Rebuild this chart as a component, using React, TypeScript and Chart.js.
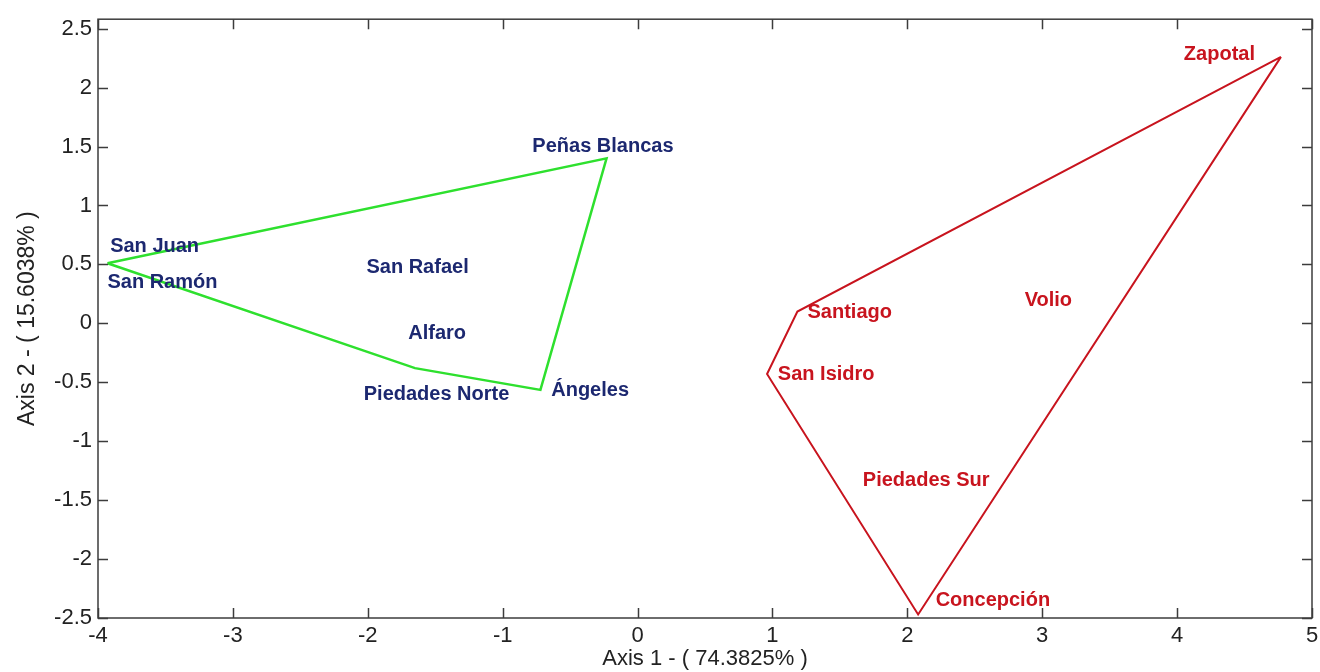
import React, { useEffect, useRef } from "react";
import { Chart, registerables } from "chart.js";

Chart.register(...registerables);

// Convex hull of the first group (green)
const greenHullX = [-3.93, -0.23, -0.72, -1.65, -3.93];
const greenHullY = [0.51, 1.4, -0.565, -0.38, 0.51];

// Convex hull of the second group (red)
const redHullX = [4.77, 2.08, 0.96, 1.185, 4.77];
const redHullY = [2.26, -2.47, -0.43, 0.1, 2.26];

// Labels of the first group
const blueNames = ["San Juan", "San Ramón", "San Rafael", "Peñas Blancas", "Alfaro", "Piedades Norte", "Ángeles"];
const blueX = [-3.91, -3.93, -2.01, -0.78, -1.7, -2.03, -0.64];
const blueY = [0.65, 0.35, 0.47, 1.5, -0.09, -0.6, -0.57];

// Labels of the second group
const redNames = ["Zapotal", "Volio", "Santiago", "San Isidro", "Piedades Sur", "Concepción"];
const redX = [4.05, 2.87, 1.26, 1.04, 1.67, 2.21];
const redY = [2.28, 0.19, 0.09, -0.43, -1.33, -2.35];

const xTitle = "Axis 1 - ( 74.3825% )";
const yTitle = "Axis 2 - ( 15.6038% )";
const xMin = -4;
const xMax = 5;
const yMin = -2.5;
const yMax = 2.58;

const FONT = "'Liberation Sans', Arial, sans-serif";

const toPts = (xs: number[], ys: number[]) => xs.map((x, i) => ({ x, y: ys[i] }));

const framePlugin = {
  id: "frame",
  afterDatasetsDraw(chart: any) {
    const { ctx, chartArea } = chart;
    const xs = chart.scales.x;
    const ys = chart.scales.y;
    ctx.save();
    ctx.strokeStyle = "#3c3c3c";
    ctx.lineWidth = 1.5;
    ctx.strokeRect(chartArea.left, chartArea.top, chartArea.right - chartArea.left, chartArea.bottom - chartArea.top);
    const tl = 10;
    ctx.beginPath();
    xs.ticks.forEach((t: any) => {
      const px = Math.round(xs.getPixelForValue(t.value)) + 0.5;
      ctx.moveTo(px, chartArea.bottom);
      ctx.lineTo(px, chartArea.bottom - tl);
      ctx.moveTo(px, chartArea.top);
      ctx.lineTo(px, chartArea.top + tl);
    });
    ys.ticks.forEach((t: any) => {
      const py = Math.round(ys.getPixelForValue(t.value)) + 0.5;
      ctx.moveTo(chartArea.left, py);
      ctx.lineTo(chartArea.left + tl, py);
      ctx.moveTo(chartArea.right, py);
      ctx.lineTo(chartArea.right - tl, py);
    });
    ctx.stroke();
    ctx.font = `bold 20px ${FONT}`;
    ctx.textAlign = "left";
    ctx.textBaseline = "middle";
    ctx.fillStyle = "#1c2870";
    blueNames.forEach((n, i) => {
      ctx.fillText(n, xs.getPixelForValue(blueX[i]), ys.getPixelForValue(blueY[i]));
    });
    ctx.fillStyle = "#c8141e";
    redNames.forEach((n, i) => {
      ctx.fillText(n, xs.getPixelForValue(redX[i]), ys.getPixelForValue(redY[i]));
    });
    ctx.restore();
  },
};

export default function App() {
  const ref = useRef<HTMLCanvasElement | null>(null);
  useEffect(() => {
    if (!ref.current) return;
    const chart = new Chart(ref.current, {
      type: "scatter",
      data: {
        datasets: [
          {
            data: toPts(greenHullX, greenHullY),
            showLine: true,
            borderColor: "#2ee02e",
            borderWidth: 2.5,
            pointRadius: 0,
            fill: false,
          },
          {
            data: toPts(redHullX, redHullY),
            showLine: true,
            borderColor: "#c8141e",
            borderWidth: 2,
            pointRadius: 0,
            fill: false,
          },
        ],
      },
      options: {
        animation: false,
        responsive: true,
        maintainAspectRatio: false,
        layout: { padding: { top: 16, right: 8, left: 0, bottom: 0 } },
        plugins: { legend: { display: false }, tooltip: { enabled: false } },
        scales: {
          x: {
            type: "linear",
            min: xMin,
            max: xMax,
            ticks: {
              stepSize: 1,
              includeBounds: false,
              color: "#222",
              padding: 5,
              font: { family: FONT, size: 22 },
              maxRotation: 0,
              callback: (v: any) => String(Math.round(Number(v) * 100) / 100),
            },
            grid: { display: false, drawTicks: false },
            border: { display: false },
            title: {
              display: true,
              text: xTitle,
              color: "#222",
              font: { family: FONT, size: 22 },
              padding: { top: 0, bottom: 0 },
            },
            afterFit: (s: any) => {
              s.height = 54;
              s.paddingRight = 4;
            },
          },
          y: {
            type: "linear",
            min: yMin,
            max: yMax,
            ticks: {
              stepSize: 0.5,
              includeBounds: false,
              color: "#222",
              padding: 6,
              font: { family: FONT, size: 22 },
              callback: (v: any) => String(Math.round(Number(v) * 100) / 100),
            },
            grid: { display: false, drawTicks: false },
            border: { display: false },
            title: {
              display: true,
              text: yTitle,
              color: "#222",
              font: { family: FONT, size: 23 },
              padding: { top: 14, bottom: 0 },
            },
            afterFit: (s: any) => {
              s.width = 98;
            },
          },
        },
      },
      plugins: [framePlugin],
    });
    return () => chart.destroy();
  }, []);
  return (
    <div style={{ position: "fixed", left: 0, top: 0, width: 1320, height: 672, background: "#fff" }}>
      <canvas ref={ref} />
    </div>
  );
}
